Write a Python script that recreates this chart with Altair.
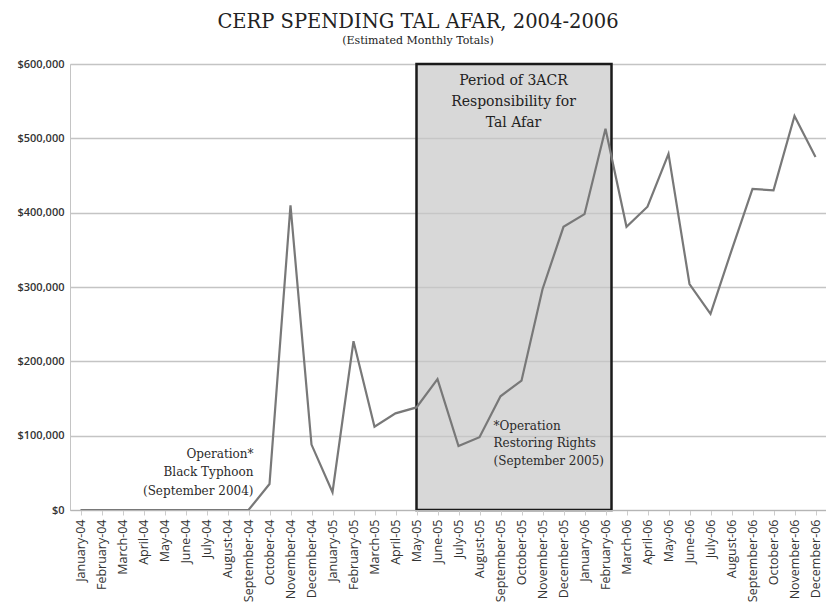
import altair as alt
import pandas as pd

month_names = ["January", "February", "March", "April", "May", "June", "July",
               "August", "September", "October", "November", "December"]
years = ["04", "05", "06"]
months = [f"{m}-{y}" for y in years for m in month_names]

spending = [0, 0, 0, 0, 0, 0, 0, 0, 0, 35000, 410000, 88000,
            24000, 227000, 112000, 130000, 138000, 176000, 86000, 98000, 153000, 174000, 297000, 381000,
            398000, 513000, 381000, 408000, 479000, 304000, 264000, 349000, 432000, 430000, 530000, 475000]

period_start = ["May-05"]
period_end = ["February-06"]
period_top = [600000]

period_text = ["Period of 3ACR", "Responsibility for", "Tal Afar"]
period_text_y = [577000, 549000, 520000]
period_text_x = ["September-05"] * 3

typhoon_text = ["Operation*", "Black Typhoon", "(September 2004)"]
typhoon_y = [75000, 51000, 26000]
typhoon_x = ["September-04"] * 3

rights_text = ["*Operation", "Restoring Rights", "(September 2005)"]
rights_y = [113000, 90000, 66000]
rights_x = ["September-05"] * 3

y_ticks = [0, 100000, 200000, 300000, 400000, 500000, 600000]

df = pd.DataFrame({"month": months, "value": spending})
box = pd.DataFrame({"start": period_start, "end": period_end, "top": period_top, "bottom": [0]})
ptxt = pd.DataFrame({"month": period_text_x, "value": period_text_y, "text": period_text})
ttxt = pd.DataFrame({"month": typhoon_x, "value": typhoon_y, "text": typhoon_text})
rtxt = pd.DataFrame({"month": rights_x, "value": rights_y, "text": rights_text})

xscale = alt.Scale(domain=months, type="point", padding=0.5)
yscale = alt.Scale(domain=[0, 600000])

xaxis = alt.Axis(title=None, labelAngle=-90, labelFont="Open Sans", labelFontSize=12.5,
                 labelColor="#333", domainColor="#b5b5b5", tickColor="#cccccc", tickSize=5,
                 labelPadding=4, grid=False)
yaxis = alt.Axis(title=None, format="$,.0f", values=y_ticks, labelFont="Open Sans",
                 labelFontSize=11, labelFontWeight=600, labelColor="#333", ticks=False,
                 labelPadding=6, grid=True, gridColor="#c4c4c4", gridWidth=1.3,
                 domainColor="#c4c4c4")

rect = alt.Chart(box).mark_rect(fill="#c8c8c8", fillOpacity=0.7, stroke="#1a1a1a",
                                strokeWidth=2.5, x2Offset=6).encode(
    x=alt.X("start:O", scale=xscale, axis=xaxis),
    x2="end:O",
    y=alt.Y("top:Q", scale=yscale, axis=yaxis),
    y2="bottom:Q",
)

line = alt.Chart(df).mark_line(color="#787878", strokeWidth=2.2).encode(
    x=alt.X("month:O", scale=xscale, axis=xaxis),
    y=alt.Y("value:Q", scale=yscale, axis=yaxis),
)

serif = "DejaVu Serif"
t1 = alt.Chart(ptxt).mark_text(font=serif, fontSize=14, color="#222", align="center",
                               baseline="middle", dx=13).encode(
    x=alt.X("month:O", scale=xscale), y=alt.Y("value:Q", scale=yscale), text="text:N")
t2 = alt.Chart(ttxt).mark_text(font=serif, fontSize=12, color="#2a2a2a", align="right",
                               baseline="middle", dx=5).encode(
    x=alt.X("month:O", scale=xscale), y=alt.Y("value:Q", scale=yscale), text="text:N")
t3 = alt.Chart(rtxt).mark_text(font=serif, fontSize=12, color="#2a2a2a", align="left",
                               baseline="middle", dx=-7).encode(
    x=alt.X("month:O", scale=xscale), y=alt.Y("value:Q", scale=yscale), text="text:N")

chart = alt.layer(rect, line, t1, t2, t3).properties(
    width=756, height=446,
    padding={"left": 8, "right": 0, "top": 3, "bottom": 0},
    title=alt.TitleParams(text="CERP SPENDING  TAL AFAR, 2004-2006",
                          subtitle="(Estimated Monthly Totals)",
                          font=serif, fontSize=19.5, fontWeight="normal", color="#222",
                          subtitleFont=serif, subtitleFontSize=11, subtitleColor="#222",
                          anchor="middle", offset=11, subtitlePadding=3, dx=-30),
).configure_view(stroke=None).configure(background="white")

chart.save("out.html", embed_options={"renderer": "svg", "actions": False})
